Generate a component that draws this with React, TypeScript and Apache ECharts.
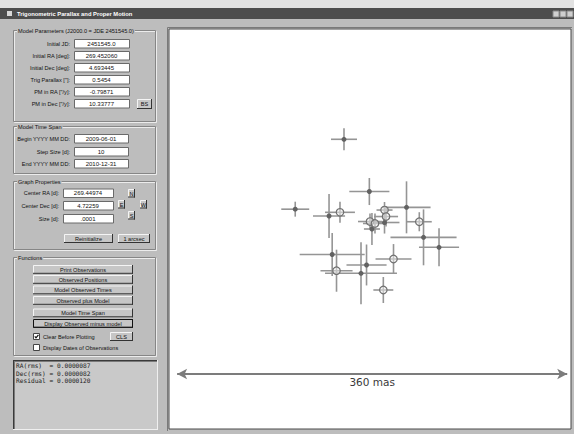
import React, { useEffect, useRef } from 'react';
import * as echarts from 'echarts';

// ---- data: residuals (observed minus model), milliarcseconds ----
const resRA = [-24.0, -0.6, -69.0, 33.7, -37.8, -27.7, 0.0, 1.8, 4.6, 13.4, 14.8, 13.4, 45.5, 49.4, 63.7, -34.9, -30.9, -8.3, -3.2, 21.7, 12.3];
const resDec = [82.8, 34.6, 18.3, 20.0, 12.0, 15.4, 6.9, 0.0, 5.1, 17.5, 11.5, 6.0, 6.7, -7.7, -16.9, -23.5, -38.5, -40.9, -33.2, -27.7, -56.3];
const errRA = [12.0, 18.5, 12.9, 22.2, 14.8, 13.8, 11.1, 7.4, 11.1, 7.4, 11.1, 13.8, 11.5, 30.5, 18.5, 30.0, 14.8, 33.2, 18.5, 16.6, 9.2];
const errDec = [10.2, 12.5, 6.9, 24.0, 20.3, 9.7, 7.4, 14.8, 9.2, 7.4, 9.2, 10.2, 8.8, 25.8, 17.5, 19.8, 19.4, 28.6, 18.9, 13.8, 12.0];
const openMarker = [0, 0, 0, 0, 0, 1, 1, 0, 1, 1, 1, 0, 1, 0, 0, 0, 1, 0, 0, 1, 1];

const X_RANGE = [-185.5, 185.5];
const Y_RANGE = [-184.6, 184.6];

const scaleBar = [-178, 182];
const scaleBarY = -133.8;
const scaleBarLabel = '360 mas';

// ---- panel texts ----
const windowTitle = 'Trigonometric Parallax and Proper Motion';
const paramLabels = ['Initial JD:', 'Initial RA [deg]:', 'Initial Dec [deg]:', 'Trig Parallax ["]:', 'PM in RA ["/y]:', 'PM in Dec ["/y]:'];
const paramValues = ['2451545.0', '269.452060', '4.693445', '0.5454', '-0.79871', '10.33777'];
const spanLabels = ['Begin YYYY MM DD:', 'Step Size [d]:', 'End YYYY MM DD:'];
const spanValues = ['2009-06-01', '10', '2010-12-31'];
const graphLabels = ['Center RA [d]:', 'Center Dec [d]:', 'Size [d]:'];
const graphValues = ['269.44974', '4.72259', '.0001'];
const functionButtons = ['Print Observations', 'Observed Positions', 'Model Observed Times', 'Observed plus Model', 'Model Time Span', 'Display Observed minus model'];
const outputLines = ['RA(rms)  = 0.0000087', 'Dec(rms) = 0.0000082', 'Residual = 0.0000120'];

const BG = '#bdbdbd';
const UI_FONT = '"Liberation Sans", Arial, sans-serif';

function rect(x: number, y: number, w: number, h: number, fill: any, stroke: any = null, lw = 1): any {
  return { type: 'rect', silent: true, shape: { x, y, width: w, height: h }, style: { fill: fill || 'none', stroke: stroke || 'none', lineWidth: lw } };
}
function line(x1: number, y1: number, x2: number, y2: number, stroke: string, lw = 1): any {
  return { type: 'line', silent: true, shape: { x1, y1, x2, y2 }, style: { stroke, lineWidth: lw } };
}
function text(x: number, y: number, s: string, o: any = {}): any {
  const style: any = {
    text: s,
    fill: o.fill || '#111',
    fontSize: o.size || 5.6,
    fontFamily: o.family || UI_FONT,
    fontWeight: o.weight || 'normal',
    align: o.align || 'left',
    verticalAlign: 'middle',
  };
  if (o.bg) { style.backgroundColor = o.bg; style.padding = [0, 1]; }
  return { type: 'text', silent: true, x, y, style };
}
function textBox(x1: number, y1: number, x2: number, y2: number, v: string): any[] {
  return [
    rect(x1 + 0.5, y1 + 0.5, x2 - x1, y2 - y1, '#ffffff', '#6a6a6a'),
    text((x1 + x2) / 2, (y1 + y2) / 2 + 0.5, v, { align: 'center', size: 6 }),
  ];
}
function button(x1: number, y1: number, x2: number, y2: number, label: string, pressed = false): any[] {
  const els: any[] = [rect(x1, y1, x2 - x1, y2 - y1, '#c6c6c6')];
  els.push(line(x1 + 0.5, y1 + 0.5, x2 - 0.5, y1 + 0.5, '#f4f4f4'));
  els.push(line(x1 + 0.5, y1 + 0.5, x1 + 0.5, y2 - 0.5, '#f4f4f4'));
  els.push(line(x1, y2 - 0.5, x2, y2 - 0.5, '#333'));
  els.push(line(x2 - 0.5, y1, x2 - 0.5, y2, '#333'));
  if (pressed) els.push(rect(x1 + 0.5, y1 + 0.5, x2 - x1 - 1, y2 - y1 - 1, null, '#111'));
  els.push(text((x1 + x2) / 2, (y1 + y2) / 2 + 0.3, label, { align: 'center' }));
  return els;
}
function frame(x1: number, y1: number, x2: number, y2: number, label: string): any[] {
  return [
    rect(x1 + 1.5, y1 + 1.5, x2 - x1, y2 - y1, null, '#ececec'),
    rect(x1 + 0.5, y1 + 0.5, x2 - x1, y2 - y1, null, '#868686'),
    text(x1 + 4, y1 + 0.5, label, { bg: BG }),
  ];
}
function checkbox(x: number, y: number, checked: boolean): any[] {
  const els: any[] = [rect(x + 0.5, y + 0.5, 6, 6, '#ffffff', '#444')];
  if (checked) els.push({ type: 'polyline', silent: true, shape: { points: [[x + 1.8, y + 3.3], [x + 3, y + 4.8], [x + 5.4, y + 1.8]] }, style: { stroke: '#111', lineWidth: 1.2, fill: 'none' } });
  return els;
}

function buildGraphic(): any[] {
  const g: any[] = [];
  // top strip and title bar
  g.push(rect(0, 0, 574, 8, '#e2e2e2'));
  g.push(rect(0, 8, 574, 11, '#4d4d4d'));
  g.push(rect(7, 11, 5, 5, '#d8d8d8'));
  g.push(text(17, 14, windowTitle, { fill: '#ffffff', weight: 'bold', size: 5.8 }));
  [553, 560, 567].forEach((x) => g.push(rect(x, 11, 6, 6, '#cfcfcf', '#888')));
  // plot sunken border
  g.push(line(167.5, 27.5, 572, 27.5, '#7a7a7a'));
  g.push(line(167.5, 27.5, 167.5, 431, '#7a7a7a'));

  // Model parameters
  g.push(...frame(13, 30, 155, 121, 'Model Parameters (J2000.0 = JDE 2451545.0)'));
  const pTops = [39, 51, 63, 75, 87, 99];
  paramLabels.forEach((l, i) => {
    g.push(text(70, pTops[i] + 4.5, l, { align: 'right' }));
    g.push(...textBox(74, pTops[i], 129, pTops[i] + 8.5, paramValues[i]));
  });
  g.push(...button(137, 99, 152, 109, 'BS'));

  // Model time span
  g.push(...frame(13, 126, 155, 173, 'Model Time Span'));
  const sTops = [134, 147, 159];
  spanLabels.forEach((l, i) => {
    g.push(text(70, sTops[i] + 4.5, l, { align: 'right' }));
    g.push(...textBox(74, sTops[i], 128, sTops[i] + 8.5, spanValues[i]));
  });

  // Graph properties
  g.push(...frame(13, 181, 155, 249, 'Graph Properties'));
  const gTops = [188.5, 201, 214];
  graphLabels.forEach((l, i) => {
    g.push(text(59, gTops[i] + 4.5, l, { align: 'right' }));
    g.push(...textBox(63, gTops[i], 113, gTops[i] + 8.5, graphValues[i]));
  });
  g.push(...button(128, 189, 135, 197.5, 'N'));
  g.push(...button(118, 200, 125, 208.5, 'E'));
  g.push(...button(140, 200, 147, 208.5, 'W'));
  g.push(...button(128, 211, 135, 219.5, 'S'));
  g.push(...button(64, 234, 113, 243, 'Reinitialize'));
  g.push(...button(118, 234, 150, 243, '1 arcsec'));

  // Functions
  g.push(...frame(13, 257, 155, 355, 'Functions'));
  const fTops = [265, 275, 285.5, 296, 308.5, 319];
  functionButtons.forEach((l, i) => {
    g.push(...button(33, fTops[i], 133, fTops[i] + 8.8, l, i === functionButtons.length - 1));
  });
  g.push(...checkbox(33, 333, true));
  g.push(text(43, 336.5, 'Clear Before Plotting'));
  g.push(...button(110, 332, 133, 341, 'CLS'));
  g.push(...checkbox(33, 344, false));
  g.push(text(43, 347.5, 'Display Dates of Observations'));

  // output box
  g.push(rect(13, 360, 144, 69, '#c9c9c9'));
  g.push(line(13, 360.5, 157, 360.5, '#3a3a3a', 1));
  g.push(line(13.5, 360, 13.5, 429, '#3a3a3a', 1));
  g.push(line(14, 361.5, 157, 361.5, '#7a7a7a', 1));
  g.push(line(14.5, 361, 14.5, 429, '#7a7a7a', 1));
  g.push(line(13, 429.5, 158, 429.5, '#efefef', 1));
  g.push(line(157.5, 360, 157.5, 430, '#efefef', 1));
  const oY = [365.5, 373, 380.5];
  outputLines.forEach((l, i) => g.push(text(16, oY[i], l, { family: '"DejaVu Sans Mono", monospace', size: 6.2, fill: '#222' })));
  return g;
}

export default function App() {
  const ref = useRef<HTMLDivElement>(null);
  useEffect(() => {
    if (!ref.current) return;
    const chart = echarts.init(ref.current, undefined, { renderer: 'svg' });
    const bars = resRA.map((v, i) => [v, resDec[i], errRA[i], errDec[i]]);
    const dots = resRA.map((v, i) => [v, resDec[i]]).filter((_, i) => !openMarker[i]);
    const opens = resRA.map((v, i) => [v, resDec[i]]).filter((_, i) => !!openMarker[i]);
    const option: any = {
      animation: false,
      backgroundColor: BG,
      grid: { left: 169, top: 29, width: 402, height: 400, show: true, backgroundColor: '#ffffff', borderColor: '#4a4a4a', borderWidth: 1 },
      xAxis: { type: 'value', min: X_RANGE[0], max: X_RANGE[1], show: false },
      yAxis: { type: 'value', min: Y_RANGE[0], max: Y_RANGE[1], show: false },
      graphic: { elements: buildGraphic() },
      series: [
        {
          type: 'custom',
          z: 2,
          data: bars,
          renderItem: (params: any, api: any) => {
            const x = api.value(0), y = api.value(1), ex = api.value(2), ey = api.value(3);
            const l = api.coord([x - ex, y]);
            const r = api.coord([x + ex, y]);
            const t = api.coord([x, y + ey]);
            const b = api.coord([x, y - ey]);
            const style = { stroke: '#959595', lineWidth: 1.6 };
            return {
              type: 'group',
              children: [
                { type: 'line', shape: { x1: l[0], y1: l[1], x2: r[0], y2: r[1] }, style },
                { type: 'line', shape: { x1: t[0], y1: t[1], x2: b[0], y2: b[1] }, style },
              ],
            };
          },
        },
        {
          type: 'scatter',
          z: 3,
          data: dots,
          symbol: 'circle',
          symbolSize: 5,
          itemStyle: { color: '#626262', opacity: 1 },
          markLine: {
            silent: true,
            animation: false,
            symbol: ['arrow', 'arrow'],
            symbolSize: [8, 10],
            lineStyle: { color: '#7c7c7c', width: 2, type: 'solid' },
            label: { show: true, position: 'insideMiddleBottom', formatter: scaleBarLabel, color: '#3a3a3a', fontSize: 10.5, fontFamily: '"DejaVu Sans", sans-serif', distance: 3 },
            data: [[{ coord: [scaleBar[0], scaleBarY] }, { coord: [scaleBar[1], scaleBarY] }]],
          },
        },
        {
          type: 'scatter',
          z: 3,
          data: opens,
          symbol: 'circle',
          symbolSize: 7.5,
          itemStyle: { color: 'rgba(240,240,240,0.5)', borderColor: '#707070', borderWidth: 1.2, opacity: 1 },
        },
      ],
    };
    chart.setOption(option);
    return () => chart.dispose();
  }, []);
  return <div ref={ref} style={{ position: 'absolute', left: 0, top: 0, width: 574, height: 434 }} />;
}
